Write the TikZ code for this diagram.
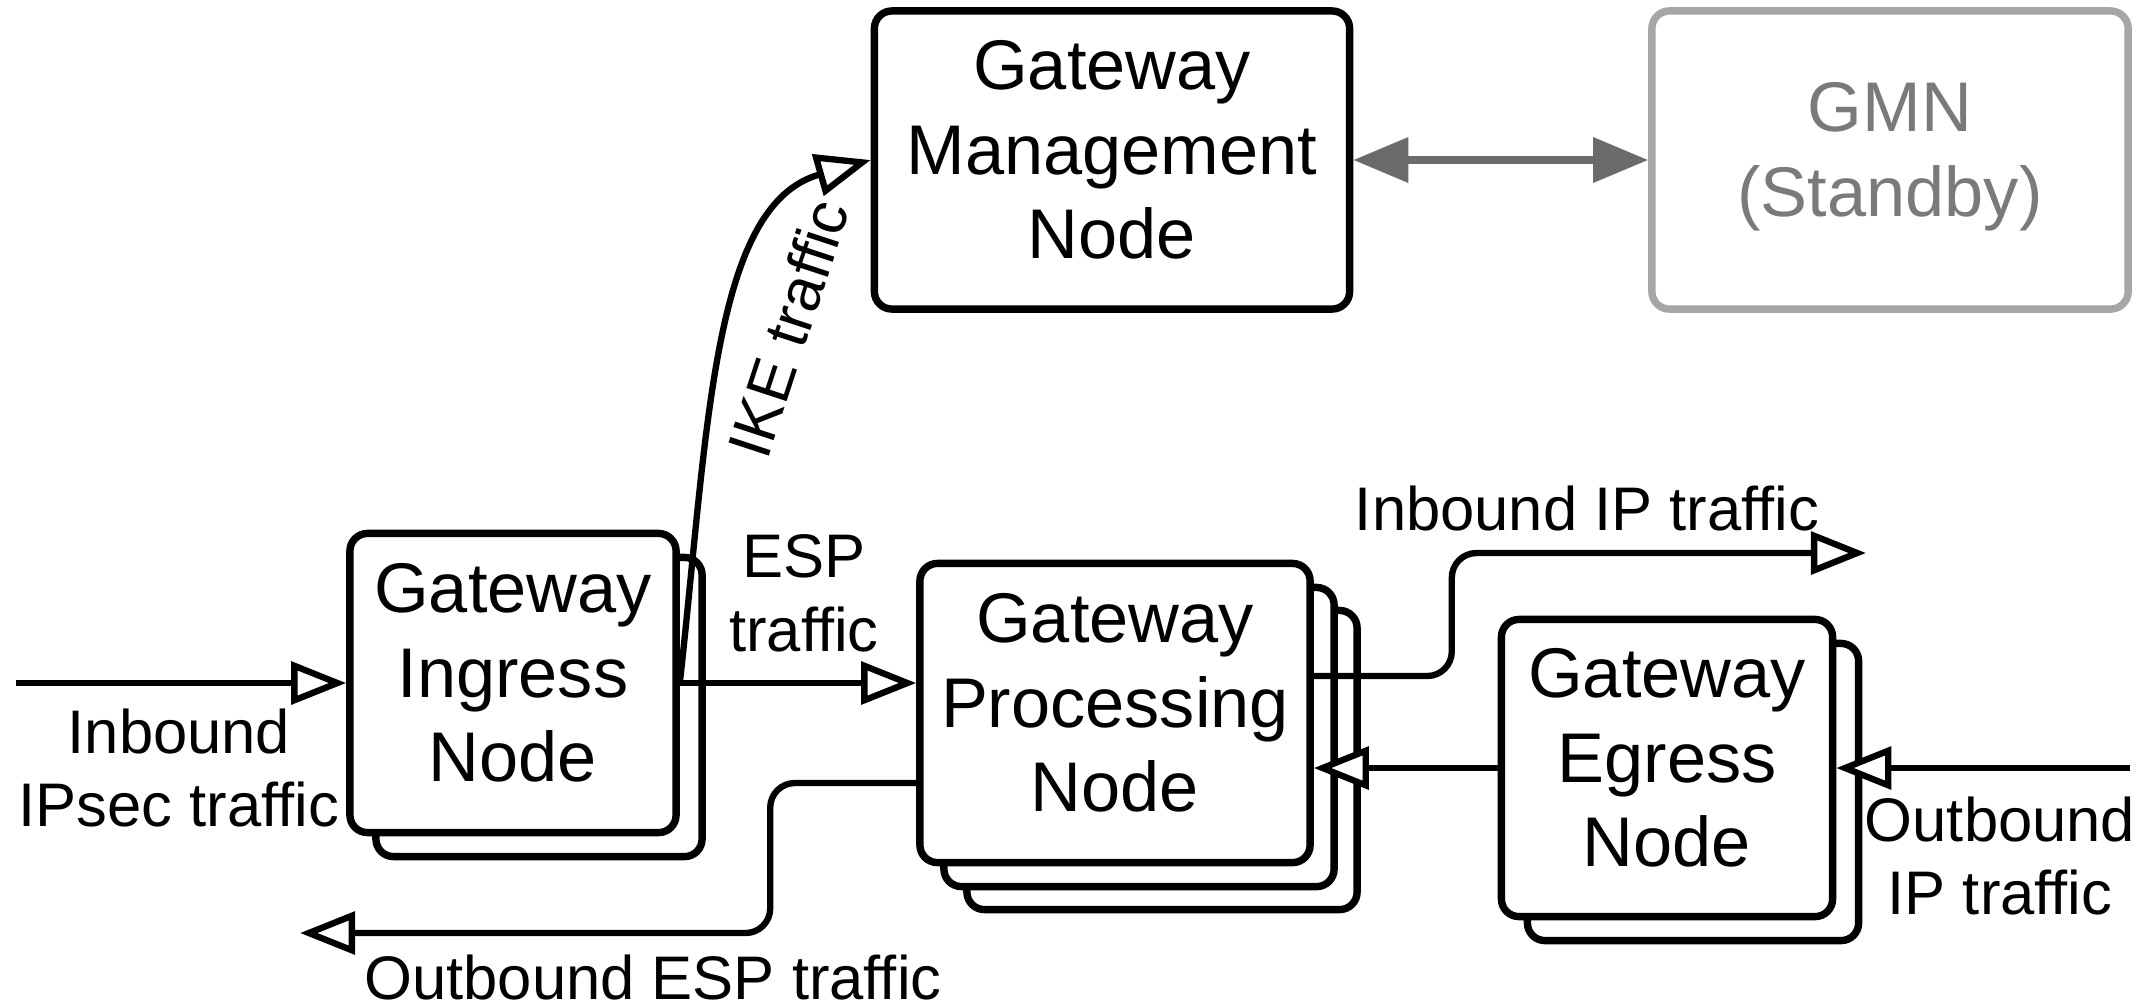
\documentclass[tikz,border=0pt]{standalone}
\usepackage{fontspec}
\setmainfont{Liberation Sans}
\usetikzlibrary{arrows.meta,calc}

\definecolor{standbyrand}{HTML}{A6A6A6}
\definecolor{standbytext}{HTML}{7A7A7A}
\definecolor{pfeilgrau}{HTML}{6B6B6B}

\tikzset{
  knoten/.style={draw, line width=2.1pt, rounded corners=5pt, fill=white,
    align=center, inner sep=0pt, text depth=6pt, font=\fontsize{20}{24}\selectfont},
  beschriftung/.style={align=center, font=\fontsize{17.5}{21}\selectfont},
  fluss/.style={line width=1.8pt, -{Triangle[length=0.55cm, width=0.42cm, fill=white]}},
}

\begin{document}
\begin{tikzpicture}[x=0.01cm, y=-0.01cm]
    \useasboundingbox (0,0) rectangle (2155,1005);
    % Management
    \node[knoten, minimum width=4.75cm, minimum height=2.98cm] (mgmt) at (1112,160) {Gateway\\Management\\Node};
    \node[knoten, draw=standbyrand, text=standbytext, minimum width=4.76cm, minimum height=2.98cm] (gmn) at (1890,160) {GMN\\(Standby)};
    \draw[line width=2pt, pfeilgrau, {Triangle[length=0.55cm, width=0.44cm]}-{Triangle[length=0.55cm, width=0.44cm]}] (mgmt.east) -- (gmn.west);
    % Ingress
    \node[knoten, minimum width=3.26cm, minimum height=2.99cm] (ing2) at (539,707) {};
    \node[knoten, minimum width=3.26cm, minimum height=2.99cm] (ing) at (513,683) {Gateway\\Ingress\\Node};
    % Processing
    \node[knoten, minimum width=3.9cm, minimum height=2.99cm] (proc3) at (1162,760) {};
    \node[knoten, minimum width=3.9cm, minimum height=2.99cm] (proc2) at (1139,737) {};
    \node[knoten, minimum width=3.9cm, minimum height=2.99cm] (proc) at (1115,713) {Gateway\\Processing\\Node};
    % Egress
    \node[knoten, minimum width=3.31cm, minimum height=2.97cm] (egr2) at (1693,792) {};
    \node[knoten, minimum width=3.31cm, minimum height=2.97cm] (egr) at (1667,768) {Gateway\\Egress\\Node};
    % Verbindungen
    \coordinate (inIPsec) at (16,683);
    \coordinate (inIP) at (1866,553);
    \coordinate (outIP) at (2130,768);
    \coordinate (outESP) at (300,933);
    \draw[fluss] (inIPsec) -- (ing.west);
    \draw[fluss] (ing.east) -- (ing.east -| proc.west);
    \draw[fluss] (ing.east) .. controls (708,430) and (712,205) .. (mgmt.west)
        node[beschriftung, pos=0.56, sloped, below=5pt] (lblIKE) {IKE traffic};
    \draw[fluss, rounded corners=7pt] ($(proc.east)+(0,-37)$) -- ++(138,0) |- (inIP);
    \draw[fluss] (outIP) -- (outIP -| egr.east);
    \draw[fluss] (egr.west) -- (egr.west -| proc.east);
    \draw[fluss, rounded corners=7pt] ($(proc.west)+(0,70)$) -- ++(-146,0) |- (outESP);
    % Beschriftungen
    \node[beschriftung] (lblIPsec) at (179,768) {Inbound\\IPsec traffic};
    \node[beschriftung] (lblESP) at (804,593) {ESP\\traffic};
    \node[beschriftung] (lblInIP) at (1587,508) {Inbound IP traffic};
    \node[beschriftung] (lblOutIP) at (2000,856) {Outbound\\IP traffic};
    \node[beschriftung] (lblOutESP) at (653,977) {Outbound ESP traffic};
\end{tikzpicture}
\end{document}
